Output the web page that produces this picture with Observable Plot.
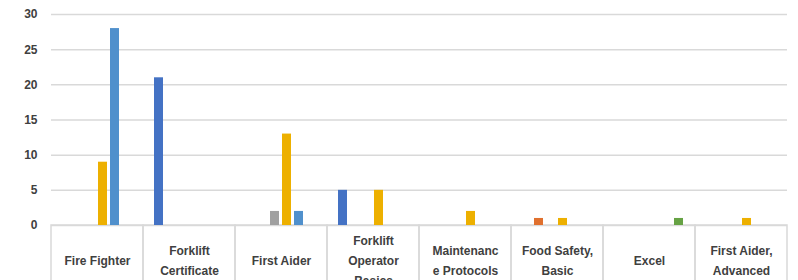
<!DOCTYPE html>
<html><head><meta charset="utf-8">
<script src="https://cdn.jsdelivr.net/npm/d3@7"></script>
<script src="https://cdn.jsdelivr.net/npm/@observablehq/plot@0.6"></script>
<style>body{margin:0;background:#fff;overflow:hidden}</style>
</head><body><div id="chart"></div>
<script>
const categories = ["Fire Fighter", "Forklift Certificate", "First Aider", "Forklift Operator Basics", "Maintenance Protocols", "Food Safety, Basic", "Excel", "First Aider, Advanced"];
const tickLabels = ["Fire Fighter", "Forklift\nCertificate", "First Aider", "Forklift\nOperator\nBasics", "Maintenanc\ne Protocols", "Food Safety,\nBasic", "Excel", "First Aider,\nAdvanced"];
const seriesNames = ["Series 1", "Series 2", "Series 3", "Series 4", "Series 5", "Series 6"];
const seriesColors = ["#4472C4", "#E0702E", "#A0A0A0", "#EDB000", "#5090CC", "#66A244"];
const series1 = [0, 21, 0, 5, 0, 0, 0, 0];
const series2 = [0, 0, 0, 0, 0, 1, 0, 0];
const series3 = [0, 0, 2, 0, 0, 0, 0, 0];
const series4 = [9, 0, 13, 5, 2, 1, 0, 1];
const series5 = [28, 0, 2, 0, 0, 0, 0, 0];
const series6 = [0, 0, 0, 0, 0, 0, 1, 0];
const yTicks = [0, 5, 10, 15, 20, 25, 30];

const seriesValues = [series1, series2, series3, series4, series5, series6];
const data = [];
seriesNames.forEach((s, i) => categories.forEach((c, j) => {
  if (seriesValues[i][j] > 0) data.push({category: c, series: s, value: seriesValues[i][j]});
}));
const labelRows = categories.map((c, i) => ({category: c, label: tickLabels[i]}));

const chart = Plot.plot({
  width: 798, height: 280,
  marginLeft: 50, marginRight: 10, marginTop: 14, marginBottom: 55,
  style: {fontFamily: "'Liberation Sans', Arial, sans-serif", background: "#fff", overflow: "visible"},
  fx: {domain: categories, padding: 0, axis: null},
  x: {domain: seriesNames, paddingInner: 0.22, paddingOuter: 0.7, axis: null},
  y: {domain: [0, 30]},
  color: {domain: seriesNames, range: seriesColors},
  marks: [
    Plot.gridY(yTicks, {stroke: "#d9d9d9", strokeOpacity: 1, strokeWidth: 1.5}),
    Plot.axisY(yTicks, {tickSize: 0, tickPadding: 14, fontSize: 12, fontWeight: "bold", fill: "#404040", label: null}),
    Plot.barY(labelRows, {fx: "category", y1: 0, y2: 0, insetBottom: -60, fill: "none", stroke: "#d9d9d9", strokeWidth: 1.5}),
    Plot.barY(data, {fx: "category", x: "series", y: "value", fill: "series"}),
    Plot.text(labelRows, {fx: "category", text: "label", frameAnchor: "bottom", dy: 33, lineAnchor: "middle", lineHeight: 1.65, fontSize: 12, fontWeight: "bold", fill: "#404040"})
  ]
});
document.getElementById("chart").appendChild(chart);
</script>
</body></html>
